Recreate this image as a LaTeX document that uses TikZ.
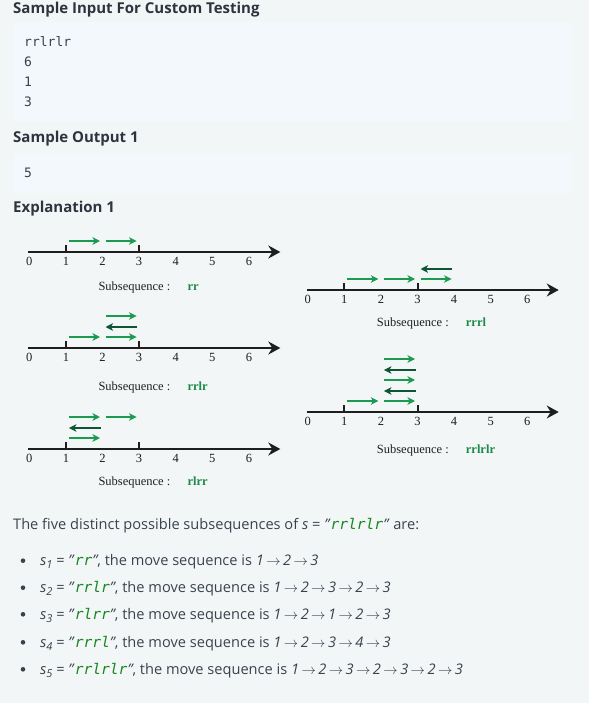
\documentclass[tikz,border=0pt]{standalone}
\usepackage{fontspec}
\setmainfont{Open Sans}
\newfontfamily\serifd{Liberation Serif}
\newfontfamily\monod{DejaVu Sans Mono}[ItalicFont={DejaVu Sans Mono Oblique}]
\usetikzlibrary{arrows.meta}
\definecolor{pagebg}{RGB}{243,246,247}
\definecolor{boxbg}{RGB}{243,248,252}
\definecolor{txt}{RGB}{57,66,78}
\definecolor{headc}{RGB}{45,52,62}
\definecolor{rgreen}{RGB}{27,154,80}
\definecolor{lgreen}{RGB}{14,85,53}
\definecolor{subgreen}{RGB}{30,138,74}
\definecolor{codegreen}{RGB}{20,135,30}
\definecolor{axisc}{RGB}{30,30,30}
\newcommand\myNumline[4]{% x0, y0, subseq, label offset
  \begin{scope}[shift={(#1,#2)}]
    \draw[axisline] (0,0) -- (252,0);
    \foreach \i in {0,...,6} {\node[numlab] at ({1+36.6*\i},13) {\i};}
    \draw[tickline] ({1+36.6},0) -- ({1+36.6},-7);
    \draw[tickline] ({1+36.6*3},0) -- ({1+36.6*3},-7);
    \node[sublab] at (70,#4) {Subsequence :};
    \node[sublab,text=subgreen,font=\serifd\bfseries\fontsize{12.5}{14}\selectfont] at (159,#4) {#3};
  \end{scope}}
\newcommand\myRarr[4]{% x0,y0,interval,level
  \begin{scope}[shift={(#1,#2)}]
    \pgfmathsetmacro\lv{-(11+int(10.5*#4))}
    \draw[rarrow] ({1+36.6*#3+3},\lv) -- ({1+36.6*(#3+1)-2.5},\lv);
  \end{scope}}
\newcommand\myLarr[4]{%
  \begin{scope}[shift={(#1,#2)}]
    \pgfmathsetmacro\lv{-(11+int(10.5*#4))}
    \draw[larrow] ({1+36.6*(#3+1)-2},\lv) -- ({1+36.6*#3+3},\lv);
  \end{scope}}
\begin{document}
\begin{tikzpicture}[x=1pt,y=-1pt,
  axisline/.style={draw=axisc,line width=2pt,-{Stealth[length=12pt,width=13pt,inset=4pt]}},
  tickline/.style={draw=axisc,line width=2pt},
  numlab/.style={anchor=base,inner sep=0,text=axisc,font=\serifd\fontsize{12.5}{14}\selectfont},
  sublab/.style={anchor=base west,inner sep=0,text=axisc,font=\serifd\fontsize{12.5}{14}\selectfont},
  rarrow/.style={draw=rgreen,line width=2pt,-{Stealth[length=7.5pt,width=7.5pt,inset=2pt]}},
  larrow/.style={draw=lgreen,line width=2pt,-{Stealth[length=7.5pt,width=7.5pt,inset=2pt]}},
  head/.style={anchor=base west,inner sep=0,text=headc,font=\bfseries\fontsize{15}{18}\selectfont},
  code/.style={anchor=base west,inner sep=0,text=txt,font=\monod\fontsize{13}{16}\selectfont},
  body/.style={anchor=base west,inner sep=0,text=txt,font=\fontsize{14.6}{18}\selectfont},
  codebox/.style={fill=boxbg,rounded corners=2pt,draw=none}]
\useasboundingbox (0,0) rectangle (589,703);
\fill[pagebg] (0,0) rectangle (589,703);
% headings and code boxes
\node[head] (h1) at (13,13.5) {Sample Input For Custom Testing};
\fill[codebox] (13,22) rectangle (572,122);
\node[code] (c1) at (24,46.7) {rrlrlr};
\node[code] (c2) at (24,66.7) {6};
\node[code] (c3) at (24,86.7) {1};
\node[code] (c4) at (24,106.7) {3};
\node[head] (h2) at (13,142.7) {Sample Output 1};
\fill[codebox] (13,153) rectangle (572,193);
\node[code] (c5) at (24,177.3) {5};
\node[head] (h3) at (13,213) {Explanation 1};
% number lines
\myNumline{28.3}{252}{rr}{38}
\myRarr{28.3}{252}{1}{0}
\myRarr{28.3}{252}{2}{0}
\myNumline{28.3}{348}{rrlr}{42}
\myRarr{28.3}{348}{1}{0}
\myRarr{28.3}{348}{2}{0}
\myLarr{28.3}{348}{2}{1}
\myRarr{28.3}{348}{2}{2}
\myNumline{28.3}{449}{rlrr}{36.7}
\myRarr{28.3}{449}{1}{0}
\myLarr{28.3}{449}{1}{1}
\myRarr{28.3}{449}{1}{2}
\myRarr{28.3}{449}{2}{2}
\myNumline{306.7}{290}{rrrl}{36.7}
\myRarr{306.7}{290}{1}{0}
\myRarr{306.7}{290}{2}{0}
\myRarr{306.7}{290}{3}{0}
\myLarr{306.7}{290}{3}{1}
\myNumline{306.7}{412}{rrlrlr}{41.3}
\myRarr{306.7}{412}{1}{0}
\myRarr{306.7}{412}{2}{0}
\myLarr{306.7}{412}{2}{1}
\myRarr{306.7}{412}{2}{2}
\myLarr{306.7}{412}{2}{3}
\myRarr{306.7}{412}{2}{4}
% text
\node[body] (t0) at (13,529.3) {The five distinct possible subsequences of \textit{s} = \textit{"}{\monod\itshape\color{codegreen}rrlrlr}\textit{"} are:};
\foreach \yy/\nn/\ss/\mm in {565.7/1/rr/{1\,$\to$\,2\,$\to$\,3},
  592.7/2/rrlr/{1\,$\to$\,2\,$\to$\,3\,$\to$\,2\,$\to$\,3},
  619.3/3/rlrr/{1\,$\to$\,2\,$\to$\,1\,$\to$\,2\,$\to$\,3},
  647.3/4/rrrl/{1\,$\to$\,2\,$\to$\,3\,$\to$\,4\,$\to$\,3},
  674.3/5/rrlrlr/{1\,$\to$\,2\,$\to$\,3\,$\to$\,2\,$\to$\,3\,$\to$\,2\,$\to$\,3}} {
  \fill[txt] (23,\yy-5) circle (2.3);
  \node[body] (b\nn) at (40,\yy) {\textit{s\raisebox{-3pt}{\fontsize{11}{12}\selectfont\nn}} = \textit{"}{\monod\itshape\color{codegreen}\ss}\textit{"}, the move sequence is \textit{\mm}};
}
\end{tikzpicture}
\end{document}
